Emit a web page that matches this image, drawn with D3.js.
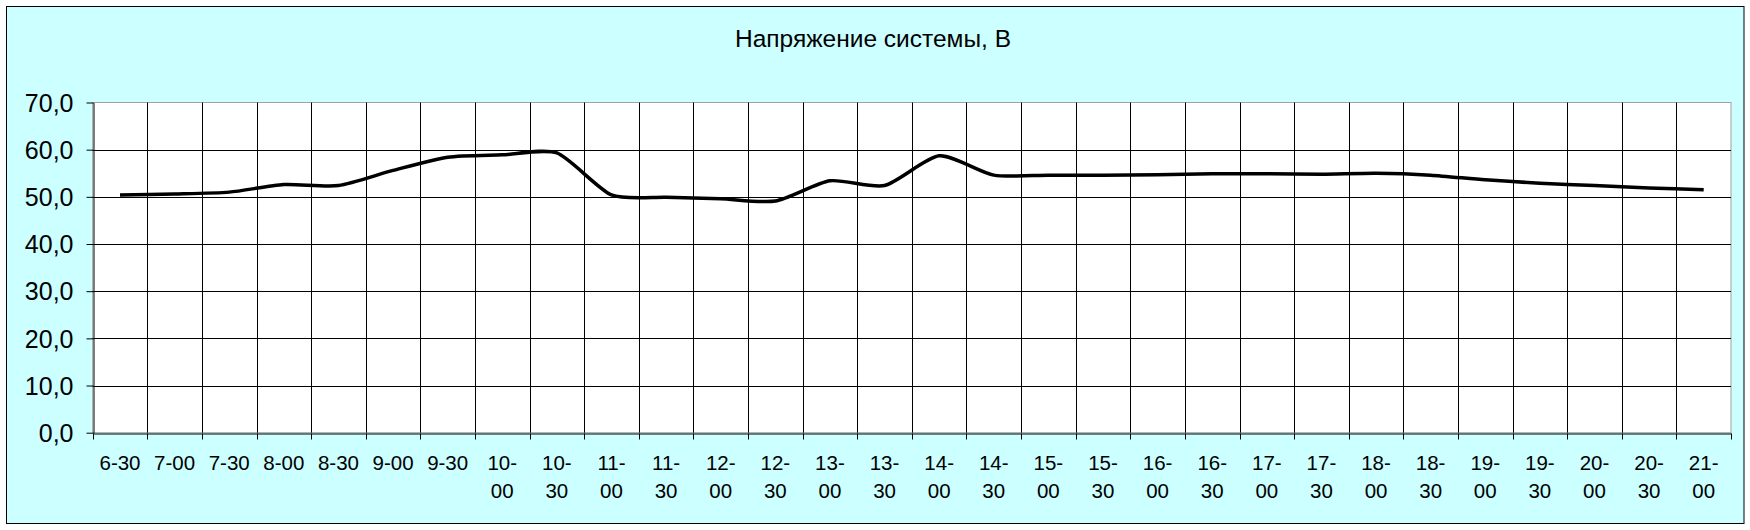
<!DOCTYPE html>
<html>
<head>
<meta charset="utf-8">
<script src="https://cdn.jsdelivr.net/npm/d3@7"></script>
<style>
  html, body { margin: 0; padding: 0; background: #fff; }
  svg { display: block; }
  text { font-family: "Liberation Sans", Arial, sans-serif; fill: #000; }
</style>
</head>
<body>
<svg id="chart" width="1750" height="530"></svg>
<script>
const title = "Напряжение системы, В";
const categories = ["6-30","7-00","7-30","8-00","8-30","9-00","9-30","10-00","10-30","11-00",
  "11-30","12-00","12-30","13-00","13-30","14-00","14-30","15-00","15-30","16-00",
  "16-30","17-00","17-30","18-00","18-30","19-00","19-30","20-00","20-30","21-00"];
const voltage = [50.4, 50.6, 51.0, 52.6, 52.4, 55.6, 58.4, 58.9, 59.3, 50.4,
  49.9, 49.6, 49.1, 53.4, 52.4, 58.7, 54.6, 54.6, 54.6, 54.7,
  54.9, 54.9, 54.8, 55.0, 54.6, 53.6, 52.9, 52.4, 51.9, 51.5];
const yTicks = [0, 10, 20, 30, 40, 50, 60, 70];

const svg = d3.select("#chart");
const plot = { left: 92.7, right: 1731, top: 102.5, bottom: 432.7 };

svg.append("rect").attr("x", 6.5).attr("y", 6.5).attr("width", 1737.5).attr("height", 517)
  .attr("fill", "#CCFFFF").attr("stroke", "#000").attr("stroke-width", 1);

svg.append("text").attr("x", 873).attr("y", 47).attr("text-anchor", "middle")
  .attr("font-size", 24.5).text(title);

const x = d3.scaleBand().domain(categories).range([plot.left, plot.right]).padding(0);
const y = d3.scaleLinear().domain([0, 70]).range([plot.bottom, plot.top]);

svg.append("rect").attr("x", plot.left).attr("y", plot.top)
  .attr("width", plot.right - plot.left).attr("height", plot.bottom - plot.top)
  .attr("fill", "#fff").attr("stroke", "#a0a0a0").attr("stroke-width", 1);

const g = svg.append("g");
g.selectAll("line.hg").data(yTicks.filter(t => t > 0 && t < 70)).join("line")
  .attr("x1", plot.left).attr("x2", plot.right)
  .attr("y1", d => Math.round(y(d)) + 0.5).attr("y2", d => Math.round(y(d)) + 0.5)
  .attr("stroke", "#000").attr("stroke-width", 1);
const bounds = categories.slice(1).map(c => x(c));
g.selectAll("line.vg").data(bounds).join("line")
  .attr("x1", d => Math.round(d) + 0.5).attr("x2", d => Math.round(d) + 0.5)
  .attr("y1", plot.top).attr("y2", plot.bottom)
  .attr("stroke", "#000").attr("stroke-width", 1);

const fmt = v => d3.format(".1f")(v).replace(".", ",");
const yAxis = d3.axisLeft(y).tickValues(yTicks).tickSize(7).tickSizeOuter(0).tickFormat(fmt);
const ya = svg.append("g").attr("transform", `translate(${Math.round(plot.left) + 0.5},0)`).call(yAxis);
ya.select(".domain").attr("stroke", "#000");
ya.selectAll(".tick line").attr("stroke", "#000");
ya.selectAll(".tick text").attr("font-size", 25).attr("font-family", "Liberation Sans, Arial, sans-serif")
  .attr("x", -20).attr("dy", "0.35em").attr("fill", "#000");

const xAxis = d3.axisBottom(x).tickValues([]).tickSizeOuter(0);
const xa = svg.append("g").attr("transform", `translate(0,${Math.round(plot.bottom) + 0.5})`).call(xAxis);
xa.select(".domain").attr("stroke", "#000");
const tickPos = categories.map(c => x(c)).concat([plot.right]);
xa.selectAll("line.xt").data(tickPos).join("line")
  .attr("x1", d => Math.round(d) + 0.5).attr("x2", d => Math.round(d) + 0.5)
  .attr("y1", 0).attr("y2", 6).attr("stroke", "#000");

const labels = svg.append("g");
categories.forEach(c => {
  const parts = c.split("-");
  const cx = x(c) + x.bandwidth() / 2;
  const t = labels.append("text").attr("x", cx).attr("y", 470)
    .attr("text-anchor", "middle").attr("font-size", 20.5);
  if (parts[0].length >= 2) {
    t.append("tspan").attr("x", cx).attr("y", 470).text(parts[0] + "-");
    t.append("tspan").attr("x", cx).attr("y", 498).text(parts[1]);
  } else {
    t.text(c);
  }
});

const line = d3.line()
  .x((d, i) => x(categories[i]) + x.bandwidth() / 2)
  .y(d => y(d))
  .curve(d3.curveCardinal.tension(0.3));
svg.append("path").datum(voltage).attr("d", line)
  .attr("fill", "none").attr("stroke", "#000").attr("stroke-width", 3.5)
  .attr("stroke-linejoin", "round");
</script>
</body>
</html>
